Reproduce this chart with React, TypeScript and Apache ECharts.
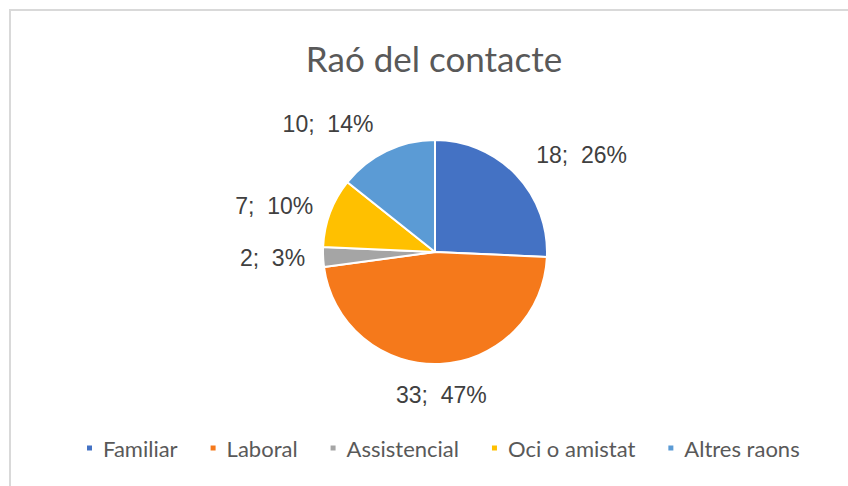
import React, { useEffect, useRef } from "react";
import * as echarts from "echarts";

const categories = ["Familiar", "Laboral", "Assistencial", "Oci o amistat", "Altres raons"];
const values = [18, 33, 2, 7, 10];
const colors = ["#4472C4", "#F5791B", "#A5A5A5", "#FFC000", "#5B9BD5"];
const titleText = "Raó del contacte";

export default function App() {
  const ref = useRef<HTMLDivElement>(null);
  useEffect(() => {
    if (!ref.current) return;
    const chart = echarts.init(ref.current, null, { renderer: "svg" });
    const total = values.reduce((a, b) => a + b, 0);
    const labelLengths = [28, 31, 18, 18, 30];
    chart.setOption({
      animation: false,
      backgroundColor: "#ffffff",
      title: {
        text: titleText,
        left: 429,
        textAlign: "center",
        top: 35,
        textStyle: { fontFamily: "Lato", fontSize: 35, fontWeight: "normal", color: "#595959" },
      },
      graphic: [
        {
          type: "rect",
          shape: { x: 10, y: 10, width: 900, height: 600 },
          style: { fill: "none", stroke: "#d9d9d9", lineWidth: 2 },
          silent: true,
        },
      ],
      legend: {
        bottom: 22,
        left: 80,
        icon: "rect",
        itemWidth: 7,
        itemHeight: 7,
        itemGap: 31,
        textStyle: { fontFamily: "Lato", fontSize: 22, color: "#595959", padding: [0, 0, 0, 5] },
        data: categories,
      },
      series: [
        {
          type: "pie",
          center: [435, 252],
          radius: 112,
          startAngle: 90,
          clockwise: true,
          avoidLabelOverlap: false,
          color: colors,
          itemStyle: { borderColor: "#ffffff", borderWidth: 2 },
          label: {
            show: true,
            position: "outside",
            distanceToLabelLine: 0,
            fontFamily: "Liberation Sans",
            fontSize: 23,
            color: "#404040",
            formatter: (p: any) => `${p.value};  ${Math.round((p.value / total) * 100)}%`,
          },
          labelLine: { show: false, length: 30, length2: 0 },
          labelLayout: (p: any) => (p.dataIndex === 1 ? { align: "center" } : {}),
          emphasis: { disabled: true },
          data: categories.map((name, i) => ({
            name,
            value: values[i],
            labelLine: { show: false, length: labelLengths[i], length2: 0 },
          })),
        },
      ],
    });
    return () => chart.dispose();
  }, []);
  return (
    <div
      ref={ref}
      style={{ position: "fixed", left: 0, top: 0, width: 848, height: 486 }}
    />
  );
}
